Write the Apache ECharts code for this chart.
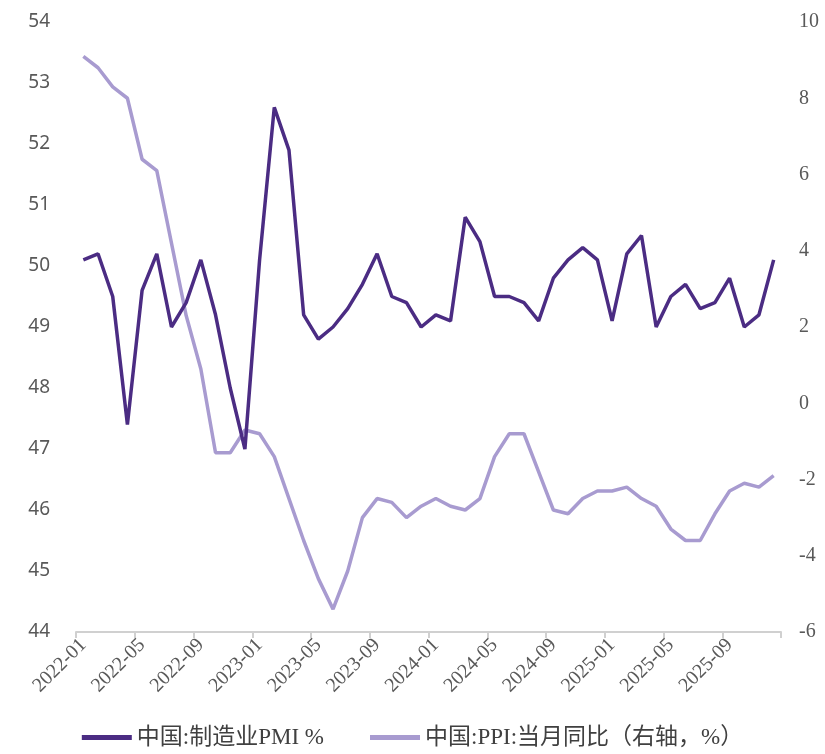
<!DOCTYPE html>
<html>
<head>
<meta charset="utf-8">
<script src="https://cdn.jsdelivr.net/npm/echarts@6/dist/echarts.min.js"></script>
<style>
  html, body { margin: 0; padding: 0; background: #fff; }
  #chart { width: 825px; height: 754px; }
</style>
</head>
<body>
<div id="chart"></div>
<script>
// Months 2022-01 .. 2025-12
const months = [];
for (let y = 2022; y <= 2025; y++) {
  for (let m = 1; m <= 12; m++) {
    months.push(y + '-' + (m < 10 ? '0' + m : '' + m));
  }
}

// China manufacturing PMI (%)
const pmi = [
  50.1, 50.2, 49.5, 47.4, 49.6, 50.2, 49.0, 49.4, 50.1, 49.2, 48.0, 47.0,
  50.1, 52.6, 51.9, 49.2, 48.8, 49.0, 49.3, 49.7, 50.2, 49.5, 49.4, 49.0,
  49.2, 49.1, 50.8, 50.4, 49.5, 49.5, 49.4, 49.1, 49.8, 50.1, 50.3, 50.1,
  49.1, 50.2, 50.5, 49.0, 49.5, 49.7, 49.3, 49.4, 49.8, 49.0, 49.2, 50.1
];

// China PPI, year-on-year (%), right axis
const ppi = [
  9.1, 8.8, 8.3, 8.0, 6.4, 6.1, 4.2, 2.3, 0.9, -1.3, -1.3, -0.7,
  -0.8, -1.4, -2.5, -3.6, -4.6, -5.4, -4.4, -3.0, -2.5, -2.6, -3.0, -2.7,
  -2.5, -2.7, -2.8, -2.5, -1.4, -0.8, -0.8, -1.8, -2.8, -2.9, -2.5, -2.3,
  -2.3, -2.2, -2.5, -2.7, -3.3, -3.6, -3.6, -2.9, -2.3, -2.1, -2.2, -1.9
];

const seriesNames = ['中国:制造业PMI %', '中国:PPI:当月同比（右轴，%）'];
const colors = ['#4B2C83', '#A89BD0'];

const chart = echarts.init(document.getElementById('chart'));
chart.setOption({
  animation: false,
  grid: { left: 76, right: 44, top: 22, bottom: 122, containLabel: false },
  legend: {
    bottom: 0,
    left: 'center',
    itemWidth: 50,
    itemHeight: 5,
    itemGap: 46,
    icon: 'rect',
    textStyle: {
      fontFamily: '"Liberation Serif", "Noto Sans CJK SC", serif',
      fontSize: 23,
      color: '#404040'
    },
    data: seriesNames
  },
  xAxis: {
    type: 'category',
    data: months,
    boundaryGap: true,
    axisLine: { onZero: false, lineStyle: { color: '#D0D0D0', width: 2 } },
    axisTick: { show: true, interval: 3, length: 6, lineStyle: { color: '#D0D0D0', width: 2 } },
    axisLabel: {
      interval: 3,
      rotate: 45,
      margin: 10,
      fontFamily: '"Liberation Serif", serif',
      fontSize: 20,
      color: '#595959'
    },
    splitLine: { show: false }
  },
  yAxis: [
    {
      type: 'value',
      min: 44, max: 54, interval: 1,
      axisLine: { show: false },
      axisTick: { show: false },
      splitLine: { show: false },
      axisLabel: {
        margin: 26,
        fontFamily: '"Noto Sans", sans-serif',
        fontSize: 19,
        color: '#595959'
      }
    },
    {
      type: 'value',
      min: -6, max: 10, interval: 2,
      axisLine: { show: false },
      axisTick: { show: false },
      splitLine: { show: false },
      axisLabel: {
        margin: 18,
        fontFamily: '"Liberation Serif", serif',
        fontSize: 20,
        color: '#595959'
      }
    }
  ],
  series: [
    {
      name: seriesNames[1],
      type: 'line',
      yAxisIndex: 1,
      data: ppi,
      symbol: 'none',
      color: colors[1],
      lineStyle: { width: 3.5, color: colors[1] },
      z: 2
    },
    {
      name: seriesNames[0],
      type: 'line',
      yAxisIndex: 0,
      data: pmi,
      symbol: 'none',
      color: colors[0],
      lineStyle: { width: 3.5, color: colors[0] },
      z: 3
    }
  ]
});
</script>
</body>
</html>
